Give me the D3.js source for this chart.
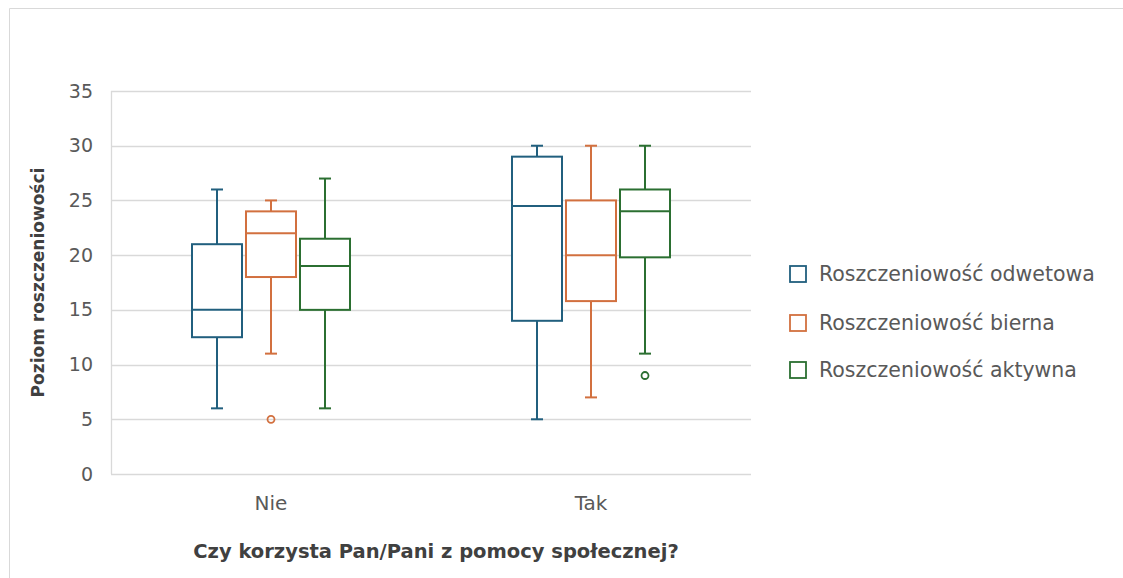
<!DOCTYPE html>
<html><head><meta charset="utf-8">
<script src="https://cdn.jsdelivr.net/npm/d3@7"></script>
<style>body{margin:0;background:#fff;}svg{display:block;}text{font-family:"DejaVu Sans",sans-serif;}</style>
</head><body>
<script>
const categories = ["Nie", "Tak"];
const seriesNames = ["Roszczeniowość odwetowa", "Roszczeniowość bierna", "Roszczeniowość aktywna"];
const seriesColors = ["#215f7e", "#d2703f", "#2b6f31"];
// [min, q1, median, q3, max] per category
const odwetowa = [[6, 12.5, 15, 21, 26], [5, 14, 24.5, 29, 30]];
const bierna   = [[11, 18, 22, 24, 25], [7, 15.8, 20, 25, 30]];
const aktywna  = [[6, 15, 19, 21.5, 27], [11, 19.8, 24, 26, 30]];
const outliersOdwetowa = [[], []];
const outliersBierna = [[5], []];
const outliersAktywna = [[], [9]];
const yTicks = [0, 5, 10, 15, 20, 25, 30, 35];

const W = 1123, H = 578;
const svg = d3.select("body").append("svg").attr("width", W).attr("height", H);
svg.append("path").attr("d", `M9.5,${H} V8.5 H${W}`).attr("fill","none").attr("stroke","#d9d9d9").attr("stroke-width",1);

const m = {left:111, right:751, top:91, bottom:474};
const y = d3.scaleLinear().domain([0,35]).range([m.bottom, m.top]);
const x = d3.scaleBand().domain(categories).range([m.left, m.right]);
const xs = d3.scaleBand().domain(d3.range(3)).range([0, x.bandwidth()]).paddingInner(0.074).paddingOuter(1.5);

// gridlines
svg.append("g").selectAll("line").data(yTicks).join("line")
  .attr("x1", m.left).attr("x2", m.right)
  .attr("y1", d=>Math.round(y(d))+0.5).attr("y2", d=>Math.round(y(d))+0.5)
  .attr("stroke","#d9d9d9").attr("stroke-width",1.3);
svg.append("line").attr("x1", m.left+0.5).attr("x2", m.left+0.5).attr("y1", m.top).attr("y2", m.bottom)
  .attr("stroke","#d9d9d9").attr("stroke-width",1.3);

const yAxis = d3.axisLeft(y).tickValues(yTicks).tickSize(0).tickPadding(18);
const gy = svg.append("g").attr("transform",`translate(${m.left},0)`).call(yAxis);
gy.select(".domain").remove();
gy.selectAll("text").attr("font-size",19).attr("font-family","DejaVu Sans").attr("fill","#595959");

const xAxis = d3.axisBottom(x).tickSize(0).tickPadding(22);
const gx = svg.append("g").attr("transform",`translate(0,${m.bottom})`).call(xAxis);
gx.select(".domain").remove();
gx.selectAll("text").attr("font-size",20).attr("font-family","DejaVu Sans").attr("fill","#595959");

const allSeries = [odwetowa, bierna, aktywna];
const allOut = [outliersOdwetowa, outliersBierna, outliersAktywna];
allSeries.forEach((ser, si) => {
  const g = svg.append("g").attr("stroke", seriesColors[si]).attr("fill","none").attr("stroke-width",2);
  ser.forEach((s, ci) => {
    const x0 = x(categories[ci]) + xs(si);
    const bw = xs.bandwidth();
    const cx = x0 + bw/2;
    const [mn,q1,md,q3,mx] = s;
    g.append("line").attr("x1",cx).attr("x2",cx).attr("y1",y(mx)).attr("y2",y(q3));
    g.append("line").attr("x1",cx).attr("x2",cx).attr("y1",y(q1)).attr("y2",y(mn));
    g.append("line").attr("x1",cx-6).attr("x2",cx+6).attr("y1",y(mx)).attr("y2",y(mx));
    g.append("line").attr("x1",cx-6).attr("x2",cx+6).attr("y1",y(mn)).attr("y2",y(mn));
    g.append("rect").attr("x",x0).attr("y",y(q3)).attr("width",bw).attr("height",y(q1)-y(q3)).attr("fill","#fff");
    g.append("line").attr("x1",x0).attr("x2",x0+bw).attr("y1",y(md)).attr("y2",y(md));
    allOut[si][ci].forEach(o => {
      g.append("circle").attr("cx",cx).attr("cy",y(o)).attr("r",3.5).attr("stroke-width",1.8);
    });
  });
});

// axis titles
svg.append("text").attr("transform",`translate(44,${(m.top+m.bottom)/2}) rotate(-90)`)
  .attr("text-anchor","middle").attr("font-size",17).attr("font-weight","bold").attr("fill","#404040")
  .text("Poziom roszczeniowości");
svg.append("text").attr("x",436).attr("y",558).attr("text-anchor","middle")
  .attr("font-size",19.5).attr("font-weight","bold").attr("fill","#404040")
  .text("Czy korzysta Pan/Pani z pomocy społecznej?");

// legend
const leg = svg.append("g");
const legY = [274, 323, 370];
seriesNames.forEach((n,i) => {
  leg.append("rect").attr("x",790).attr("y",legY[i]-8).attr("width",16).attr("height",16)
    .attr("fill","none").attr("stroke",seriesColors[i]).attr("stroke-width",1.8);
  leg.append("text").attr("x",819).attr("y",legY[i]+7).attr("font-size",20.5).attr("fill","#595959").text(n);
});
</script>
</body></html>
